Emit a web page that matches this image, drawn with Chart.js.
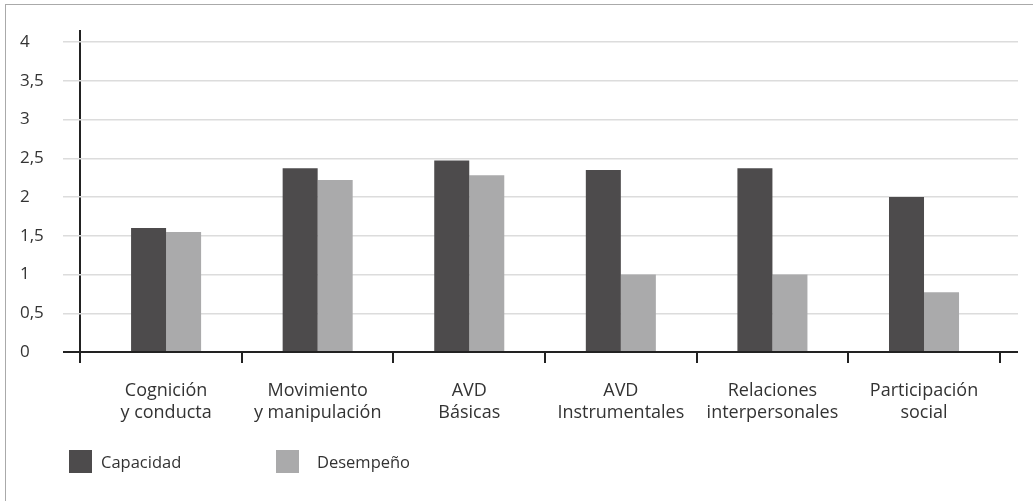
<!DOCTYPE html>
<html>
<head>
<meta charset="utf-8">
<script src="https://cdn.jsdelivr.net/npm/chart.js@4.4.1/dist/chart.umd.min.js"></script>
<style>
  body { margin: 0; background: #fff; }
  #wrap { position: relative; width: 1033px; height: 501px; overflow: hidden; }
  #frame { position: absolute; left: 5px; top: 4px; width: 1100px; height: 600px;
           border-left: 1.5px solid #aaa; border-top: 1.5px solid #aaa; }
  #legend { position: absolute; left: 69px; top: 450px; font-family: "Open Sans", sans-serif;
            font-size: 16.5px; color: #333; }
  .item { position: absolute; top: 0; white-space: nowrap; }
  .box { position: absolute; top: 0; width: 23px; height: 23px; }
  .lbl { position: absolute; top: 0px; }
</style>
</head>
<body>
<div id="wrap">
  <div id="frame"></div>
  <canvas id="myChart" width="1033" height="501"></canvas>
  <div id="legend"></div>
</div>
<script>
// data
const categories = [
  ["Cognición", "y conducta"],
  ["Movimiento", "y manipulación"],
  ["AVD", "Básicas"],
  ["AVD", "Instrumentales"],
  ["Relaciones", "interpersonales"],
  ["Participación", "social"]
];
const capacidad = [1.6, 2.37, 2.47, 2.35, 2.37, 2.0];
const desempeno = [1.55, 2.22, 2.28, 1.0, 1.0, 0.77];
const yTicks = [0, 0.5, 1, 1.5, 2, 2.5, 3, 3.5, 4];

const colors = {
  dark: "#4d4b4c",
  light: "#aaaaab",
  grid: "#dcdcdc",
  axis: "#222222",
  text: "#333333"
};

// x runs as a linear scale so the plot can stretch past the categories
const xMin = -0.18;
const xMax = 6.12;
const yAxisAt = -0.07;

const ctx = document.getElementById("myChart").getContext("2d");

const data = {
  datasets: [
    {
      label: "Capacidad",
      data: capacidad.map((v, i) => ({ x: i + 0.5, y: v })),
      backgroundColor: colors.dark
    },
    {
      label: "Desempeño",
      data: desempeno.map((v, i) => ({ x: i + 0.5, y: v })),
      backgroundColor: colors.light
    }
  ]
};

const config = {
  type: "bar",
  data: data,
  options: {
    responsive: false,
    animation: false,
    categoryPercentage: 0.462,
    barPercentage: 1,
    layout: { padding: { left: 20, right: 15, top: 30, bottom: 65 } },
    plugins: { legend: { display: false }, tooltip: { enabled: false } },
    scales: {
      x: {
        type: "linear",
        offset: false,
        min: xMin,
        max: xMax,
        weight: 0,
        border: { display: false },
        afterBuildTicks: s => {
          s.ticks = [yAxisAt, 1, 2, 3, 4, 5, 6].map(v => ({ value: v }));
        },
        afterFit: s => { s.height = 14; },
        grid: {
          offset: false,
          drawOnChartArea: true,
          color: c => (c.index === 0 ? colors.axis : "rgba(0,0,0,0)"),
          tickColor: colors.axis,
          tickLength: 11,
          lineWidth: 2
        },
        ticks: { display: false }
      },
      x2: {
        type: "linear",
        position: "bottom",
        offset: false,
        min: xMin,
        max: xMax,
        weight: 1,
        border: { display: false },
        grid: { display: false, drawTicks: false, offset: false },
        afterBuildTicks: s => {
          s.ticks = categories.map((c, i) => ({ value: i + 0.5 }));
        },
        afterFit: s => { s.height = 70; },
        ticks: {
          autoSkip: false,
          maxRotation: 0,
          padding: 14,
          color: colors.text,
          font: { family: "'Open Sans', sans-serif", size: 18, lineHeight: 1.22 },
          callback: (v, i) => categories[i]
        }
      },
      y: {
        min: 0,
        max: 4.155,
        border: { display: false },
        afterBuildTicks: s => {
          s.ticks = yTicks.map(v => ({ value: v }));
        },
        afterFit: s => { s.width = 43; },
        grid: {
          drawTicks: false,
          color: c => (c.tick && c.tick.value === 0 ? colors.axis : colors.grid),
          lineWidth: c => (c.tick && c.tick.value === 0 ? 2 : 1.5)
        },
        ticks: {
          crossAlign: "far",
          padding: 10,
          color: colors.text,
          font: { family: "'Open Sans', sans-serif", size: 17 },
          callback: v => String(v).replace(".", ",")
        }
      }
    }
  }
};

const myChart = new Chart(ctx, config);

// legend built from the datasets
const legendEl = document.getElementById("legend");
const legendX = [0, 207];
const textX = [32, 41];
myChart.data.datasets.forEach((ds, i) => {
  const item = document.createElement("div");
  item.className = "item";
  item.style.left = legendX[i] + "px";
  item.innerHTML = '<span class="box" style="background:' + ds.backgroundColor + '"></span>' +
    '<span class="lbl" style="left:' + textX[i] + 'px">' + ds.label + '</span>';
  legendEl.appendChild(item);
});
</script>
</body>
</html>
